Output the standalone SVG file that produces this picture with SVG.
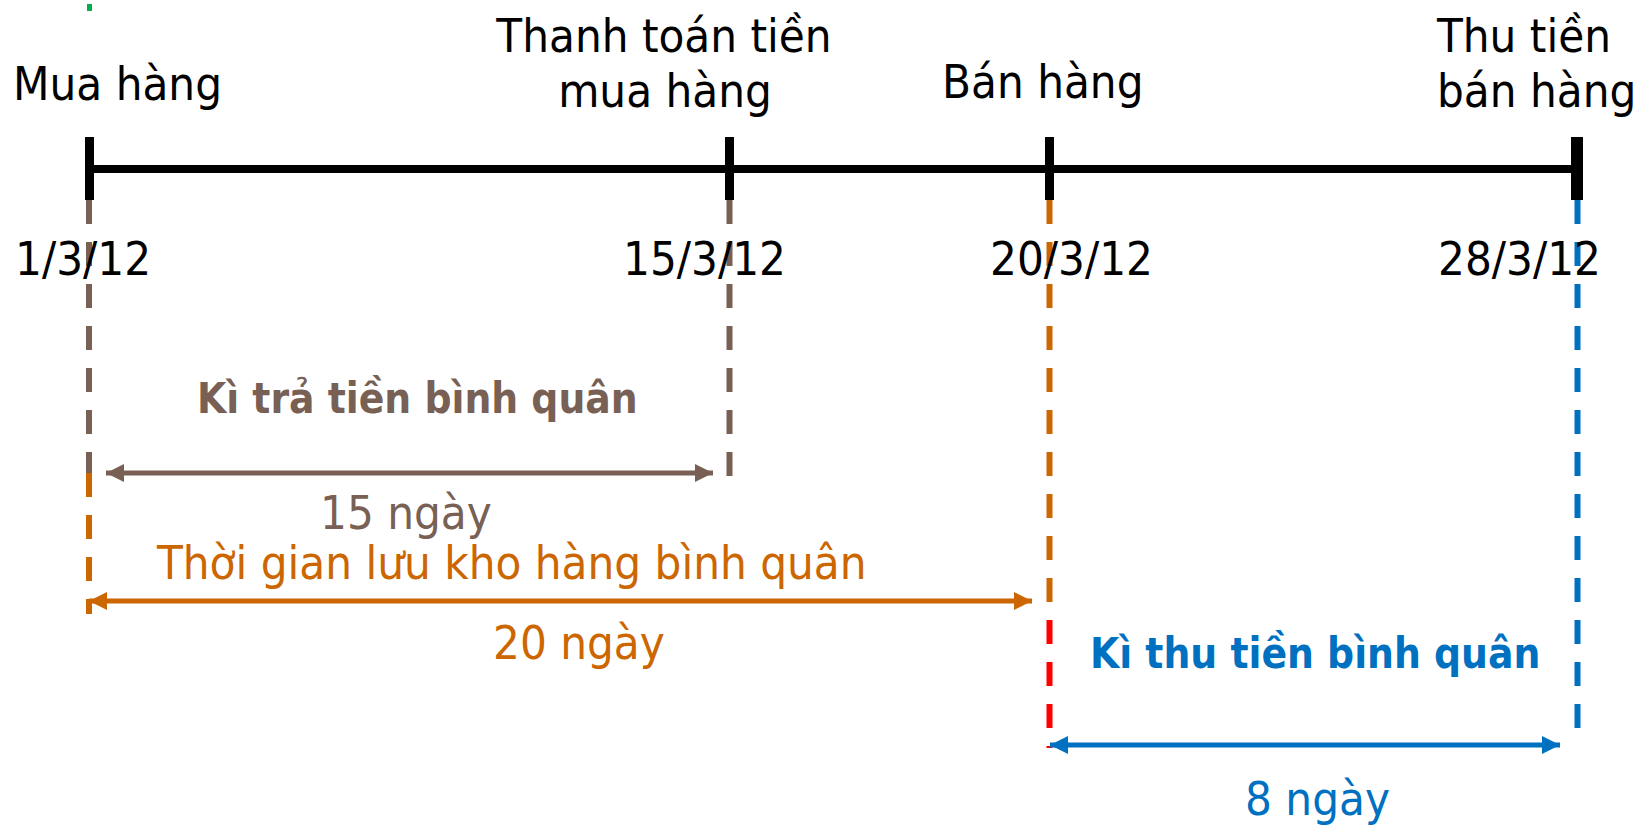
<svg xmlns="http://www.w3.org/2000/svg" width="1646" height="827" viewBox="0 0 1646 827">
<defs>
<style>
text{font-family:"DejaVu Sans Condensed","DejaVu Sans","Liberation Sans",sans-serif;font-stretch:condensed;font-size:47px}
.k{fill:#000}
.b{font-weight:bold;font-size:42px}
.br{fill:#786055}
.or{fill:#CC6600}
.bl{fill:#0070C0}
.dash{fill:none;stroke-width:6;stroke-dasharray:24 18}
.arr{fill:none;stroke-width:5}
</style>
<marker id="mbr" viewBox="0 0 18 18" refX="18" refY="9" markerWidth="18" markerHeight="18" markerUnits="userSpaceOnUse" orient="auto-start-reverse"><path d="M0,0 L18,9 L0,18 z" fill="#786055"/></marker>
<marker id="mor" viewBox="0 0 18 18" refX="18" refY="9" markerWidth="18" markerHeight="18" markerUnits="userSpaceOnUse" orient="auto-start-reverse"><path d="M0,0 L18,9 L0,18 z" fill="#CC6600"/></marker>
<marker id="mbl" viewBox="0 0 18 18" refX="18" refY="9" markerWidth="18" markerHeight="18" markerUnits="userSpaceOnUse" orient="auto-start-reverse"><path d="M0,0 L18,9 L0,18 z" fill="#0070C0"/></marker>
</defs>
<rect width="1646" height="827" fill="#fff"/>
<g id="timeline">
<line x1="89" y1="169" x2="1577" y2="169" stroke="#000" stroke-width="8"/>
<rect x="85" y="137" width="9" height="63" fill="#000"/>
<rect x="725" y="137" width="9" height="63" fill="#000"/>
<rect x="1045" y="137" width="9" height="63" fill="#000"/>
<rect x="1571" y="137" width="12" height="63" fill="#000"/>
</g>
<g id="connectors">
<line x1="89.5" y1="-10" x2="89.5" y2="15" stroke="#00B050" stroke-width="5" stroke-dasharray="7 5" stroke-dashoffset="-2"/>
<line class="dash" x1="89" y1="200" x2="89" y2="476" stroke="#786055"/>
<line class="dash" x1="89" y1="473" x2="89" y2="614" stroke="#CC6600"/>
<line class="dash" x1="729.5" y1="200" x2="729.5" y2="478" stroke="#786055"/>
<line class="dash" x1="1049.5" y1="200" x2="1049.5" y2="605" stroke="#CC6600"/>
<line class="dash" x1="1049.5" y1="620" x2="1049.5" y2="748" stroke="#FF0000"/>
<line class="dash" x1="1577.5" y1="200" x2="1577.5" y2="729" stroke="#0070C0"/>
<line class="arr" x1="106" y1="473" x2="713" y2="473" stroke="#786055" marker-start="url(#mbr)" marker-end="url(#mbr)"/>
<line class="arr" x1="89" y1="601" x2="1032" y2="601" stroke="#CC6600" marker-start="url(#mor)" marker-end="url(#mor)"/>
<line class="arr" x1="1050" y1="745" x2="1560" y2="745" stroke="#0070C0" marker-start="url(#mbl)" marker-end="url(#mbl)"/>
</g>
<g id="n-mua"><text class="k" x="13" y="100">Mua hàng</text><text class="k" x="15" y="275">1/3/12</text></g>
<g id="n-thanhtoan"><text class="k" x="664" y="52" text-anchor="middle">Thanh toán tiền</text><text class="k" x="665" y="107" text-anchor="middle">mua hàng</text><text class="k" x="623" y="275">15/3/12</text></g>
<g id="n-ban"><text class="k" x="942" y="98">Bán hàng</text><text class="k" x="990" y="275">20/3/12</text></g>
<g id="n-thu"><text class="k" x="1437" y="52">Thu tiền</text><text class="k" x="1437" y="107">bán hàng</text><text class="k" x="1438" y="275">28/3/12</text></g>
<g id="l-tra"><text class="b br" x="197" y="413">Kì trả tiền bình quân</text><text class="br" x="320" y="529">15 ngày</text></g>
<g id="l-kho"><text class="or" x="157" y="579">Thời gian lưu kho hàng bình quân</text><text class="or" x="493" y="659">20 ngày</text></g>
<g id="l-thu"><text class="b bl" x="1090" y="668">Kì thu tiền bình quân</text><text class="bl" x="1245" y="815">8 ngày</text></g>
</svg>
